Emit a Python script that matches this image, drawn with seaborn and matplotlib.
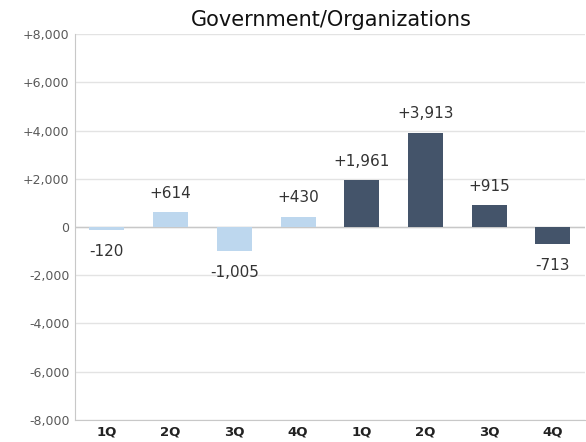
import numpy as np, pandas as pd, matplotlib
matplotlib.use('Agg')
import matplotlib.pyplot as plt
import seaborn as sns

# ── Data ─────────────────────────────────────────────────────────────────────
quarters = ['1Q', '2Q', '3Q', '4Q', '1Q', '2Q', '3Q', '4Q']
values   = [-120, 614, -1005, 430, 1961, 3913, 915, -713]
period   = ['prev', 'prev', 'prev', 'prev', 'cur', 'cur', 'cur', 'cur']
yticks   = [-8000, -6000, -4000, -2000, 0, 2000, 4000, 6000, 8000]

COLORS = {'prev': '#BDD7EE', 'cur': '#44546A'}

df = pd.DataFrame({'pos': range(len(values)), 'value': values, 'period': period})

sns.set_style('white')
plt.rcParams['font.family'] = ['DejaVu Sans']

fig = plt.figure(figsize=(5.86, 4.42), dpi=100)
ax = fig.add_axes([0.128, 0.05, 0.87, 0.873])

sns.barplot(data=df, x='pos', y='value', hue='period', palette=COLORS,
            dodge=False, width=0.55, saturation=1, linewidth=0,
            legend=False, ax=ax, zorder=3)

ax.set_ylim(-8000, 8000)
ax.set_yticks(yticks)
ax.set_yticklabels(['0' if v == 0 else f'{v:+,}' for v in yticks],
                   fontsize=9, color='#595959')
ax.set_xticks(range(len(quarters)))
ax.set_xticklabels(quarters, fontsize=9.5, fontweight='bold', color='#222222')
ax.tick_params(length=0, pad=4)
ax.set_xlabel(''); ax.set_ylabel('')

ax.grid(axis='y', color='#E3E3E3', lw=1, zorder=0)
ax.axhline(0, color='#C8C8C8', lw=1, zorder=2)
for s in ['top', 'right']:
    ax.spines[s].set_visible(False)
for s in ['left', 'bottom']:
    ax.spines[s].set_color('#C8C8C8')

for i, v in enumerate(values):
    off = 8 if v > 0 else -10
    ax.annotate(f'{v:+,}', (i, v), xytext=(0, off), textcoords='offset points',
                ha='center', va='bottom' if v > 0 else 'top',
                fontsize=11, color='#333333')

fig.text(0.565, 0.955, 'Government/Organizations', ha='center', va='center',
         fontsize=15, color='#111111')

fig.savefig('out.png', dpi=100)
